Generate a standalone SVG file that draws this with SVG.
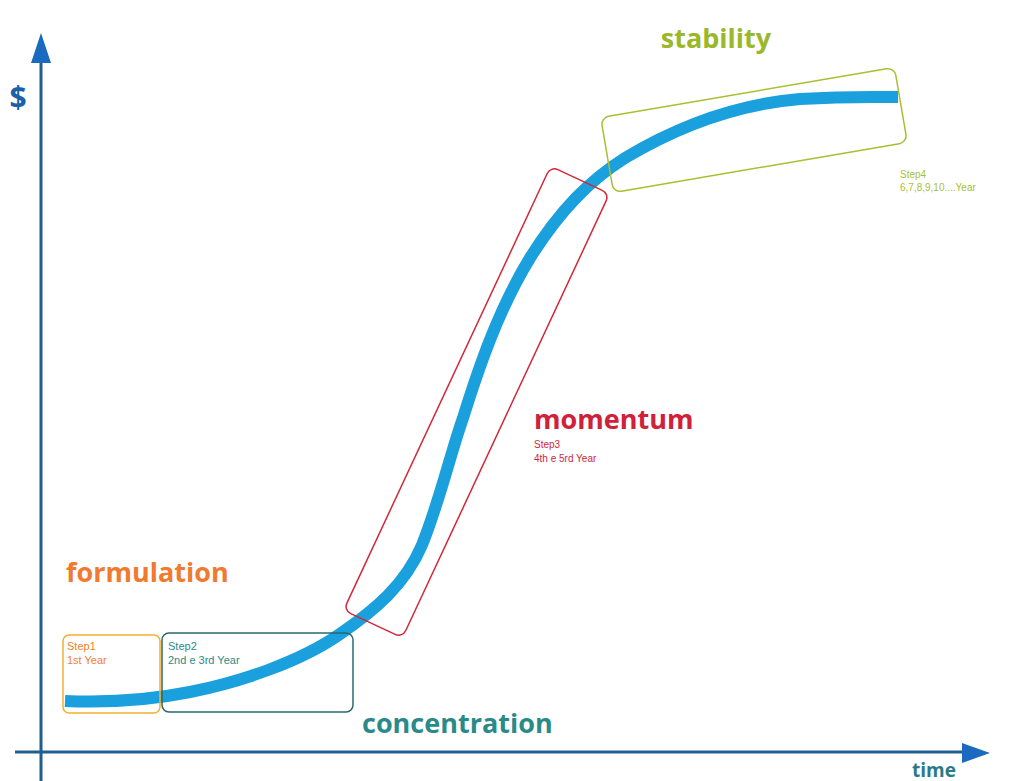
<svg xmlns="http://www.w3.org/2000/svg" width="1019" height="781" viewBox="0 0 1019 781">
<defs>
<style>
.axis{stroke:#1f5f8f;stroke-width:3;fill:none}
.head{fill:#1a6ac0}
.big{font-family:"Open Sans","Noto Sans",sans-serif;font-weight:bold;font-size:27px}
.small{font-family:"Liberation Sans",Arial,sans-serif;font-size:11px}
.box{fill:none;stroke-width:1.5}
</style>
</defs>
<rect width="1019" height="781" fill="#ffffff"/>
<g id="axes">
<line class="axis" x1="41" y1="60" x2="41" y2="781"/>
<polygon class="head" points="41,33 31,63 51,63"/>
<line class="axis" x1="15" y1="752" x2="965" y2="752"/>
<polygon class="head" points="990,753 962,743 962,763"/>
<text x="18" y="108" font-family="Open Sans,sans-serif" font-weight="bold" font-size="30" fill="#1a62a8" text-anchor="middle">$</text>
<text x="934" y="777" class="big" style="font-size:19px" fill="#2a7a8a" text-anchor="middle">time</text>
</g>
<g id="connectors">
<path d="M65,701 C110,703 150,700 190,692 C240,682 300,662 340,634 C375,610 405,585 422,545 C440,500 450,455 463,418 C478,370 498,310 530,258 C560,210 590,180 625,158 C680,125 740,104 800,99 C850,96 880,97 898,97" fill="none" stroke="#1aa0dc" stroke-width="12"/>
</g>
<g id="step1">
<rect class="box" x="63" y="635" width="97" height="78" rx="6" stroke="#f2b030"/>
<text class="small" x="67" y="650" fill="#f08030">Step1</text>
<text class="small" x="67" y="664" fill="#f08030">1st Year</text>
</g>
<g id="step2">
<rect class="box" x="162" y="633" width="191" height="79" rx="7" stroke="#2a6870"/>
<text class="small" x="168" y="650" fill="#2a8a8a">Step2</text>
<text class="small" x="168" y="664" fill="#2a8a8a">2nd e 3rd Year</text>
</g>
<g id="step3">
<rect class="box" x="-245" y="-32.5" width="490" height="65" rx="8" stroke="#d0283a" transform="translate(476.5,402) rotate(-65)"/>
<text class="small" x="534" y="448" fill="#d0283a" style="font-size:10px">Step3</text>
<text class="small" x="534" y="462" fill="#d0283a" style="font-size:10px">4th e 5rd Year</text>
</g>
<g id="step4">
<rect class="box" x="-149" y="-38" width="298" height="76" rx="8" stroke="#a8c030" transform="translate(754,130) rotate(-9.7)"/>
<text class="small" x="900" y="178" fill="#a8c030" style="font-size:10px">Step4</text>
<text class="small" x="900" y="191" fill="#a8c030" style="font-size:10px">6,7,8,9,10....Year</text>
</g>
<g id="labels">
<text class="big" x="716" y="48" fill="#9ab82a" text-anchor="middle">stability</text>
<text class="big" x="534" y="429" fill="#d0203a">momentum</text>
<text class="big" x="66" y="582" fill="#f07a30">formulation</text>
<text class="big" x="362" y="733" fill="#2a8a8a">concentration</text>
</g>
</svg>
